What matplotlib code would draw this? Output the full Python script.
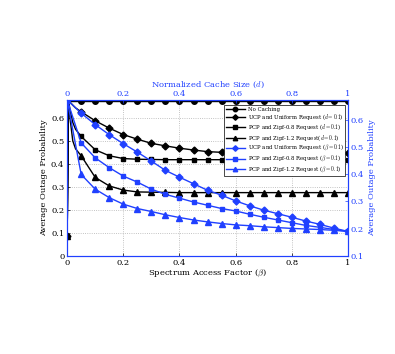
import numpy as np
import matplotlib
matplotlib.use('Agg')
import matplotlib.pyplot as plt

plt.rcParams['font.family'] = ['DejaVu Serif']
plt.rcParams['mathtext.fontset'] = 'cm'

# black curves: outage vs spectrum access factor beta (d = 0.1)
xb = [0, 0.005, 0.01, 0.02, 0.03, 0.05, 0.1, 0.15, 0.2, 0.25, 0.3, 0.35, 0.4, 0.45,
      0.5, 0.55, 0.6, 0.65, 0.7, 0.75, 0.8, 0.85, 0.9, 0.95, 1.0]
no_cache = [0.675] * len(xb)
ucp_d = [0.087, 0.675, 0.668, 0.655, 0.643, 0.626, 0.587, 0.555, 0.527, 0.507, 0.489,
         0.478, 0.468, 0.46, 0.453, 0.45, 0.448, 0.447, 0.447, 0.446, 0.446, 0.446,
         0.446, 0.446, 0.446]
zipf08_d = [0.087, 0.675, 0.635, 0.58, 0.55, 0.519, 0.461, 0.435, 0.423, 0.42, 0.419,
            0.418, 0.418, 0.418, 0.418, 0.418, 0.418, 0.418, 0.418, 0.418, 0.418,
            0.418, 0.418, 0.418, 0.418]
zipf12_d = [0.087, 0.675, 0.6, 0.5, 0.465, 0.435, 0.341, 0.304, 0.286, 0.278, 0.277,
            0.276, 0.275, 0.275, 0.275, 0.275, 0.275, 0.275, 0.275, 0.275, 0.275,
            0.275, 0.275, 0.275, 0.275]

# blue curves: outage vs normalized cache size d (beta = 0.1)
xd = [0, 0.05, 0.1, 0.15, 0.2, 0.25, 0.3, 0.35, 0.4, 0.45, 0.5, 0.55, 0.6, 0.65,
      0.7, 0.75, 0.8, 0.85, 0.9, 0.95, 1.0]
ucp_b = [0.673, 0.624, 0.582, 0.545, 0.512, 0.481, 0.448, 0.414, 0.389, 0.365, 0.341,
         0.323, 0.302, 0.284, 0.268, 0.255, 0.242, 0.228, 0.216, 0.202, 0.19]
zipf08_b = [0.673, 0.515, 0.46, 0.424, 0.393, 0.371, 0.345, 0.326, 0.312, 0.298, 0.286,
            0.274, 0.265, 0.253, 0.242, 0.232, 0.222, 0.212, 0.205, 0.197, 0.19]
zipf12_b = [0.673, 0.399, 0.345, 0.314, 0.29, 0.274, 0.263, 0.251, 0.241, 0.232, 0.225,
            0.219, 0.214, 0.211, 0.207, 0.204, 0.201, 0.199, 0.197, 0.194, 0.19]

blue = '#2040ff'
fig = plt.figure(figsize=(3.95, 3.54), dpi=100)
pos = [0.170, 0.277, 0.711, 0.441]
ax1 = fig.add_axes(pos)
ax2 = fig.add_axes(pos)
ax2.patch.set_visible(False)
ax2.xaxis.tick_top()
ax2.xaxis.set_label_position('top')
ax2.yaxis.tick_right()
ax2.yaxis.set_label_position('right')

mk = [0] + list(range(5, len(xb)))
h = []
h += ax1.plot(xb, no_cache, '-o', color='k', ms=4, lw=1, markevery=list(range(5, len(xb))), label='No Caching')
h += ax1.plot(xb, ucp_d, '-D', color='k', ms=3.5, lw=1, markevery=mk, label='UCP and Uniform Request ($d=0.1$)')
h += ax1.plot(xb, zipf08_d, '-s', color='k', ms=3.5, lw=1, markevery=mk, label='PCP and Zipf-0.8 Request ($d=0.1$)')
h += ax1.plot(xb, zipf12_d, '-^', color='k', ms=4, lw=1, markevery=mk, label='PCP and Zipf-1.2 Request($d=0.1$)')
h += ax2.plot(xd, ucp_b, '-D', color=blue, ms=3.5, lw=1, label=r'UCP and Uniform Request ($\beta=0.1$)')
h += ax2.plot(xd, zipf08_b, '-s', color=blue, ms=3.5, lw=1, label=r'PCP and Zipf-0.8 Request ($\beta=0.1$)')
h += ax2.plot(xd, zipf12_b, '-^', color=blue, ms=4, lw=1, label=r'PCP and Zipf-1.2 Request ($\beta=0.1$)')

ax1.set_xlim(0, 1)
ax1.set_ylim(0, 0.678)
ax2.set_xlim(0, 1)
ax2.set_ylim(0.1, 0.673)
ax1.set_xticks([0, 0.2, 0.4, 0.6, 0.8, 1])
ax1.set_xticklabels(['0', '0.2', '0.4', '0.6', '0.8', '1'])
ax1.set_yticks([0, 0.1, 0.2, 0.3, 0.4, 0.5, 0.6])
ax1.set_yticklabels(['0', '0.1', '0.2', '0.3', '0.4', '0.5', '0.6'])
ax2.set_xticks([0, 0.2, 0.4, 0.6, 0.8, 1])
ax2.set_xticklabels(['0', '0.2', '0.4', '0.6', '0.8', '1'])
ax2.set_yticks([0.1, 0.2, 0.3, 0.4, 0.5, 0.6])

ax1.grid(True, ls=':', color='#b0b0b0', lw=0.6)
ax1.tick_params(direction='in', labelsize=6, length=2, width=0.5, pad=2)
ax2.tick_params(direction='in', labelsize=6, length=2, width=0.5, pad=1.5, colors=blue)
for s in ax1.spines.values():
    s.set_color(blue)
for s in ax2.spines.values():
    s.set_color(blue)

ax1.set_xlabel(r'Spectrum Access Factor ($\beta$)', fontsize=6, labelpad=1)
ax1.set_ylabel('Average Outage Probability', fontsize=6, labelpad=2)
ax2.set_xlabel('Normalized Cache Size ($d$)', fontsize=6, color=blue, labelpad=2)
ax2.set_ylabel('Average Outage Probability', fontsize=6, color=blue, labelpad=3)

leg = ax2.legend(handles=h, loc='upper right', bbox_to_anchor=(0.999, 0.985), fontsize=3.9,
                 frameon=True, fancybox=False, edgecolor='k', framealpha=1, markerscale=0.8,
                 handlelength=3.5, borderpad=0.3, labelspacing=0.08, handletextpad=0.5)
leg.get_frame().set_linewidth(0.5)

fig.savefig('out.png', dpi=100)
